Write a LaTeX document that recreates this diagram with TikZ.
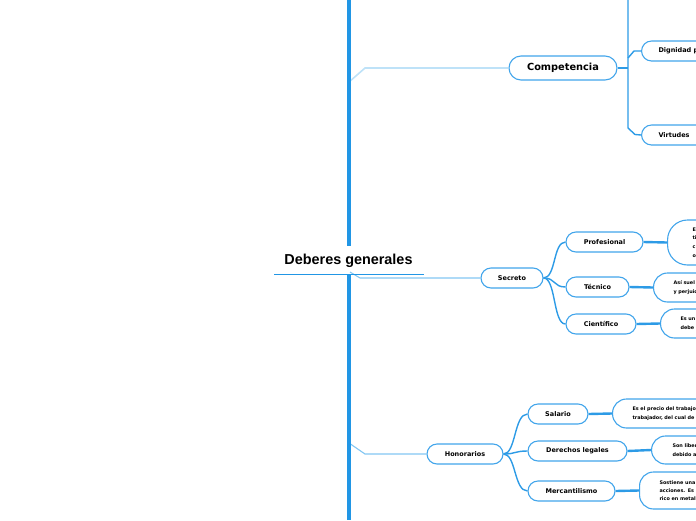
\documentclass[tikz,border=0pt]{standalone}
\usepackage{fontspec}
\setmainfont{DejaVu Sans}
\newfontfamily\titlefont{Liberation Sans}
\definecolor{mainblue}{RGB}{33,150,229}
\definecolor{nodeblue}{RGB}{66,165,235}
\definecolor{branchblue}{RGB}{45,155,230}
\definecolor{paleblue}{RGB}{190,226,248}
\definecolor{lightblue}{RGB}{130,198,242}
\begin{document}
\begin{tikzpicture}[x=1pt,y=-1pt,
  mainline/.style={draw=mainblue,line width=4pt},
  paleconn/.style={draw=paleblue,line width=1.6pt},
  lightconn/.style={draw=lightblue,line width=1.1pt},
  branch/.style={draw=branchblue,line width=1.4pt},
  thickconn/.style={draw=branchblue,line width=2.4pt},
  topic/.style={draw=nodeblue,line width=1.1pt,fill=white,rounded corners=10pt,minimum height=20pt,inner sep=0pt,font=\fontsize{6.5}{7}\selectfont\bfseries},
  bigtopic/.style={topic,rounded corners=12pt,minimum height=24pt,font=\fontsize{9.8}{11}\selectfont\bfseries},
  sidetopic/.style={topic,anchor=west,text width=100pt,align=left,inner xsep=17pt},
  desc/.style={draw=nodeblue,line width=1.1pt,fill=white,rounded corners=14pt,anchor=west,align=left,text width=110pt,inner xsep=20pt,inner ysep=0pt,font=\fontsize{4.9}{8.7}\selectfont\bfseries}
]
\useasboundingbox (0,0) rectangle (696,520);
\clip (0,0) rectangle (696,520);

% main trunk coordinates
\coordinate (top) at (349,0);
\coordinate (gapA) at (349,246);
\coordinate (gapB) at (349,274);
\coordinate (bot) at (349,520);
\coordinate (jcomp) at (349,82);
\coordinate (kcomp) at (365,68);
\coordinate (jsec) at (350,272);
\coordinate (ksec) at (360,278);
\coordinate (jhon) at (349,443);
\coordinate (khon) at (365,454);

% nodes
\node[bigtopic,minimum width=108pt] (comp) at (563,68) {Competencia};
\node[sidetopic] (dign) at (641,51) {Dignidad p};
\node[sidetopic] (virt) at (641,135) {Virtudes};

\node[topic,minimum width=62pt] (sec) at (512,278) {Secreto};
\node[topic,minimum width=77pt] (prof) at (604.5,242) {Profesional};
\node[topic,minimum width=63pt] (tec) at (597.5,287) {Técnico};
\node[topic,minimum width=70pt] (cien) at (601,324) {Científico};

\node[topic,minimum width=76pt] (hon) at (465,454) {Honorarios};
\node[topic,minimum width=60pt] (sal) at (558,414) {Salario};
\node[topic,minimum width=99pt] (der) at (577.5,451) {Derechos legales};
\node[topic,minimum width=87pt] (mer) at (571.5,491) {Mercantilismo};

\node[desc,rounded corners=20pt,minimum height=45pt,inner xsep=25pt] (profd) at (667,242.5) {E\\ti\\c\\o};
\node[desc,minimum height=29pt] (tecd) at (653,287.5) {Así suel\\y perjuic};
\node[desc,minimum height=29pt] (ciend) at (660,323.5) {Es un\\debe};
\node[desc,minimum height=29pt] (sald) at (612,413.5) {Es el precio del trabajo\\trabajador, del cual de};
\node[desc,minimum height=28pt,inner xsep=21pt] (derd) at (651,450) {Son liber\\debido a};
\node[desc,minimum height=37pt,inner xsep=20pt,font=\fontsize{4.9}{8}\selectfont\bfseries] (merd) at (639,490.5) {Sostiene una\\acciones. Es\\rico en metal};

% title
\node[font=\titlefont\fontsize{14.4}{16}\selectfont\bfseries,inner sep=0pt] (title) at (348.5,260.5) {Deberes generales};
\coordinate (ulA) at (274,274);
\coordinate (ulB) at (424,274);

% connectors from trunk (behind trunk)
\draw[paleconn] (jcomp) -- (kcomp) -- (comp.west);
\draw[lightconn] (jsec) -- (ksec) -- (sec.west);
\draw[lightconn] (jhon) -- (khon) -- (hon.west);

% trunk
\draw[mainline] (top) -- (gapA);
\draw[mainline] (gapB) -- (bot);
\draw[draw=mainblue,line width=1pt] (ulA) -- (ulB);

% Competencia children
\coordinate (cj) at (628,68);
\coordinate (ctop) at (628,0);
\coordinate (cbot) at (628,128);
\coordinate (cv) at (635,134.5);
\coordinate (cd1) at (628,58);
\coordinate (cd2) at (634,51);
\draw[thickconn] (comp.east) -- (cj);
\draw[branch] (ctop) -- (cbot) -- (cv) -- (virt.west);
\draw[branch] (cd1) -- (cd2) -- (dign.west);

% Secreto children
\draw[branch] (sec.east) .. controls (556,278) and (553,242) .. (prof.west);
\draw[branch] (sec.east) .. controls (556,278) and (553,287) .. (tec.west);
\draw[branch] (sec.east) .. controls (556,278) and (553,324) .. (cien.west);
\draw[thickconn] (prof.east) -- (profd.west);
\draw[thickconn] (tec.east) -- (tecd.west);
\draw[thickconn] (cien.east) -- (ciend.west);

% Honorarios children
\draw[branch] (hon.east) .. controls (516,454) and (514,414) .. (sal.west);
\draw[branch] (hon.east) .. controls (516,454) and (514,451) .. (der.west);
\draw[branch] (hon.east) .. controls (516,454) and (514,491) .. (mer.west);
\draw[thickconn] (sal.east) -- (sald.west);
\draw[thickconn] (der.east) -- (derd.west);
\draw[thickconn] (mer.east) -- (merd.west);
\end{tikzpicture}
\end{document}
